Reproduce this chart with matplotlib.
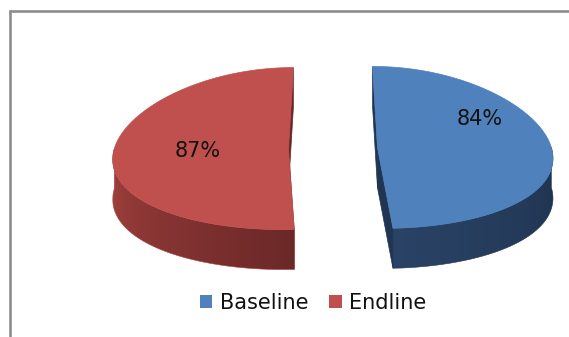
import numpy as np
import matplotlib
matplotlib.use("Agg")
import matplotlib.pyplot as plt
from matplotlib.patches import Polygon, Patch

# survey result shares
labels = ["Baseline", "Endline"]
values = [84, 87]

top_colors = ["#4F81BD", "#C0504D"]
# side shading, (near the cut edge, far end)
side_colors = [("#2A4366", "#1E324D"), ("#6B2828", "#A5433F")]
face_colors = ["#1F3552", "#6B2828"]

W, H = 569, 337
fig = plt.figure(figsize=(W / 100, H / 100), dpi=100)
ax = fig.add_axes([0, 0, 1, 1])
ax.set_xlim(0, W)
ax.set_ylim(H, 0)
ax.axis("off")

# chart area border (only top/left fall inside the image)
ax.plot([9.5, W], [11, 11], color="#8C8C8C", lw=1.9, solid_capstyle="butt")
ax.plot([10, 10], [10, H], color="#8C8C8C", lw=1.9, solid_capstyle="butt")

# pie geometry in pixels
cx, cy = 333, 148
a, b = 174, 81
depth = 40
explode = 44.5
persp = 0.11


def proj(x, y):
    s = 1 + persp * (y - cy) / b
    return cx + (x - cx) * s, y


total = sum(values)
angles = np.cumsum([0] + values) / total * 360
label_offsets = [(102, -28), (-91, 2)]

for i, v in enumerate(values):
    t0, t1 = angles[i], angles[i + 1]
    mid = np.radians((t0 + t1) / 2)
    ox = explode * np.sin(mid)
    oy = -explode * np.cos(mid) * b / a
    px, py = cx + ox, cy + oy

    th = np.radians(np.linspace(t0, t1, 300))
    rx = px + a * np.sin(th)
    ry = py - b * np.cos(th)
    rim = [proj(x, y) for x, y in zip(rx, ry)]
    apex = proj(px, py)

    # cut faces
    for k in (0, -1):
        quad = [apex, rim[k], (rim[k][0], rim[k][1] + depth),
                (apex[0], apex[1] + depth)]
        ax.add_patch(Polygon(quad, closed=True, fc=face_colors[i],
                             ec=face_colors[i], lw=0.5))

    # front side wall, shaded along its length
    lo, hi = max(t0, 90), min(t1, 270)
    if hi > lo:
        ts = np.linspace(lo, hi, 200)
        tr = np.radians(ts)
        front = [proj(px + a * np.sin(t), py - b * np.cos(t)) for t in tr]
        fx = np.array([p[0] for p in front])
        outline = front + [(x, y + depth) for x, y in front[::-1]]
        wall = Polygon(outline, closed=True, fc="none", ec="none")
        ax.add_patch(wall)

        cut_end = t1 if t1 <= 270 else t0
        frac = np.abs(ts - cut_end) / (hi - lo)
        order = np.argsort(fx)
        xs = np.linspace(fx.min(), fx.max(), 400)
        tcol = np.interp(xs, fx[order], frac[order])
        c0 = np.array(matplotlib.colors.to_rgb(side_colors[i][0]))
        c1 = np.array(matplotlib.colors.to_rgb(side_colors[i][1]))
        img = c0[None, None, :] + (c1 - c0)[None, None, :] * tcol[None, :, None]
        ys = [p[1] for p in outline]
        im = ax.imshow(img, extent=(fx.min(), fx.max(), max(ys), min(ys)),
                       aspect="auto", interpolation="bilinear", zorder=1)
        im.set_clip_path(wall)
        ax.add_patch(Polygon(outline, closed=True, fc="none",
                             ec=side_colors[i][1], lw=0.4, zorder=1))

    # top surface
    ax.add_patch(Polygon([apex] + rim, closed=True, fc=top_colors[i],
                         ec=top_colors[i], lw=0.5, zorder=2))

    lx, ly = label_offsets[i]
    ax.text(px + lx, py + ly, f"{v}%", ha="center", va="center",
            fontsize=15, family="DejaVu Sans", color="#111111", zorder=3)

ax.set_xlim(0, W)
ax.set_ylim(H, 0)

handles = [Patch(fc=c, ec="none") for c in top_colors]
fig.legend(handles, labels, loc="center", ncol=2, frameon=False,
           bbox_to_anchor=(313 / W, 1 - 303 / H),
           prop={"family": "DejaVu Sans", "size": 15},
           handlelength=0.6, handleheight=0.6, handletextpad=0.35,
           columnspacing=1.0, labelcolor="#111111")

fig.savefig("out.png", dpi=100)
